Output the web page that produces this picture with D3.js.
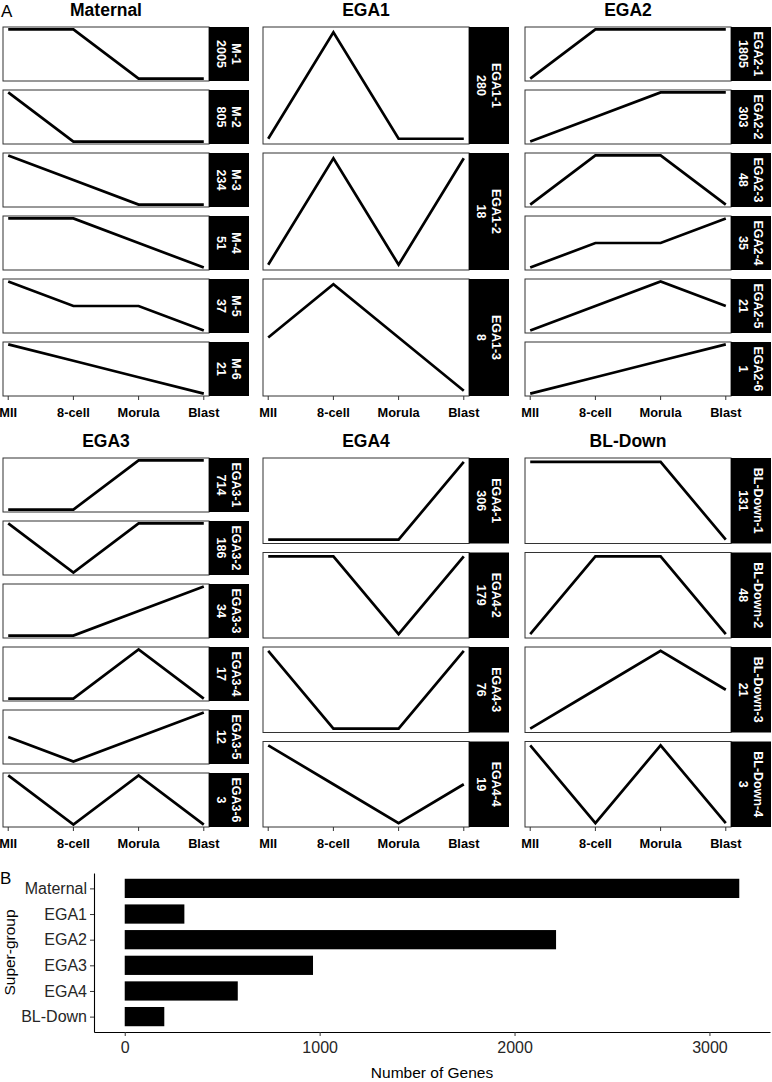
<!DOCTYPE html>
<html>
<head>
<meta charset="utf-8">
<script src="https://cdn.jsdelivr.net/npm/d3@7"></script>
<style>
  body { margin: 0; background: #fff; }
  svg { display: block; font-family: "Liberation Sans", Arial, Helvetica, sans-serif; }
</style>
</head>
<body>
<div id="container"></div>
<script>
// stages on the x axis of every profile panel
const stages = ["MII", "8-cell", "Morula", "Blast"];
const superGroups = ["Maternal", "EGA1", "EGA2", "EGA3", "EGA4", "BL-Down"];

// cluster names, sizes and relative expression profiles, one list per super-group
const clusterNames = [
	["M-1", "M-2", "M-3", "M-4", "M-5", "M-6"],
	["EGA1-1", "EGA1-2", "EGA1-3"],
	["EGA2-1", "EGA2-2", "EGA2-3", "EGA2-4", "EGA2-5", "EGA2-6"],
	["EGA3-1", "EGA3-2", "EGA3-3", "EGA3-4", "EGA3-5", "EGA3-6"],
	["EGA4-1", "EGA4-2", "EGA4-3", "EGA4-4"],
	["BL-Down-1", "BL-Down-2", "BL-Down-3", "BL-Down-4"]
];
const clusterSizes = [
	[2005, 805, 234, 51, 37, 21],
	[280, 18, 8],
	[1805, 303, 48, 35, 21, 1],
	[714, 186, 34, 17, 12, 3],
	[306, 179, 76, 19],
	[131, 48, 21, 3]
];
const profiles = [
	[[2, 2, 0, 0], [2, 0, 0, 0], [2, 1, 0, 0], [2, 2, 1, 0], [2, 1, 1, 0], [3, 2, 1, 0]],
	[[0, 2, 0, 0], [0, 2, 0, 2], [1, 2, 1, 0]],
	[[0, 2, 2, 2], [0, 1, 2, 2], [0, 2, 2, 0], [0, 1, 1, 2], [0, 1, 2, 1], [0, 1, 2, 3]],
	[[0, 0, 2, 2], [2, 0, 2, 2], [0, 0, 1, 2], [0, 0, 2, 0], [1, 0, 1, 2], [2, 0, 2, 0]],
	[[0, 0, 0, 2], [2, 2, 0, 2], [2, 0, 0, 2], [2, 1, 0, 1]],
	[[2, 2, 2, 0], [0, 2, 2, 0], [0, 1, 2, 1], [2, 0, 2, 0]]
];

// panel B: number of genes per super-group
const groupTotals = [3153, 306, 2213, 966, 580, 203];
const geneTicks = [0, 1000, 2000, 3000];

let svg = d3.select("div#container").append("svg")
	.attr("width", 772)
	.attr("height", 1082);

// ---- panel A: small multiples ----
let colLeft = [3, 263, 525];
let rowTop = [27, 458];
let blockHeight = 369, panelGap = 9;
let panelW = 206, stripW = 40;
let lineColor = "black";

svg.append("text")
	.attr("x", 1).attr("y", 17)
	.style("font-size", "17px")
	.text("A");

superGroups.forEach(function (group, gi) {
	let left = colLeft[gi % 3];
	let top = rowTop[Math.floor(gi / 3)];
	let names = clusterNames[gi];
	let n = names.length;
	let h = (blockHeight - panelGap * (n - 1)) / n;

	let xScale = d3.scalePoint().domain(stages).range([left, left + panelW]).padding(0.08);

	svg.append("text")
		.attr("x", left + panelW / 2)
		.attr("y", top - 11)
		.attr("text-anchor", "middle")
		.style("font-size", "17.5px")
		.style("font-weight", "bold")
		.text(group);

	names.forEach(function (name, ci) {
		let y0 = top + ci * (h + panelGap);
		let vals = profiles[gi][ci];
		let pad = h * 0.045;
		let yScale = d3.scaleLinear().domain(d3.extent(vals)).range([y0 + h - pad, y0 + pad]);

		svg.append("rect")
			.attr("x", left).attr("y", y0)
			.attr("width", panelW).attr("height", h)
			.attr("fill", "white")
			.attr("stroke", "#333")
			.attr("stroke-width", 1);

		svg.append("rect")
			.attr("x", left + panelW).attr("y", y0)
			.attr("width", stripW).attr("height", h)
			.attr("fill", "black");

		let line = d3.line()
			.x((d, i) => xScale(stages[i]))
			.y(d => yScale(d));

		svg.append("path")
			.datum(vals)
			.attr("d", line)
			.attr("fill", "none")
			.attr("stroke", lineColor)
			.attr("stroke-width", 2.7)
			.attr("stroke-linejoin", "miter");

		let label = svg.append("g")
			.attr("transform", "translate(" + (left + panelW + stripW / 2) + "," + (y0 + h / 2) + ") rotate(90)");
		label.append("text")
			.attr("y", -7.5 + 4.4)
			.attr("text-anchor", "middle")
			.attr("fill", "white")
			.style("font-size", "12.5px")
			.style("font-weight", "bold")
			.text(name);
		label.append("text")
			.attr("y", 7.5 + 4.4)
			.attr("text-anchor", "middle")
			.attr("fill", "white")
			.style("font-size", "12.5px")
			.style("font-weight", "bold")
			.text(clusterSizes[gi][ci]);
	});

	// x ticks under the last panel
	let bottom = top + blockHeight;
	stages.forEach(function (s) {
		svg.append("line")
			.attr("x1", xScale(s)).attr("x2", xScale(s))
			.attr("y1", bottom).attr("y2", bottom + 4)
			.attr("stroke", "#333");
		svg.append("text")
			.attr("x", xScale(s))
			.attr("y", bottom + 21)
			.attr("text-anchor", "middle")
			.style("font-size", "12.8px")
			.style("font-weight", "bold")
			.text(s);
	});
});

// ---- panel B: bar chart ----
svg.append("text")
	.attr("x", 0).attr("y", 884)
	.style("font-size", "17px")
	.text("B");

let barLeft = 94, barRight = 770, barTop = 873, barBottom = 1032;
let expand = d3.max(groupTotals) * 0.05;
let xBar = d3.scaleLinear().domain([-expand, d3.max(groupTotals) + expand]).range([barLeft, barRight]);
let yBar = d3.scalePoint().domain(superGroups).range([barTop, barBottom]).padding(0.6);
let barH = yBar.step() * 0.75;

let bars = svg.append("g");
superGroups.forEach(function (g, i) {
	bars.append("rect")
		.attr("x", xBar(0))
		.attr("y", yBar(g) - barH / 2)
		.attr("width", xBar(groupTotals[i]) - xBar(0))
		.attr("height", barH)
		.attr("fill", "black");
});

let xAxis = svg.append("g")
	.attr("transform", "translate(0," + barBottom + ")")
	.call(d3.axisBottom(xBar).tickValues(geneTicks).tickFormat(d3.format("d")).tickSize(4).tickSizeOuter(0).tickPadding(6));
let yAxis = svg.append("g")
	.attr("transform", "translate(" + barLeft + ",0)")
	.call(d3.axisLeft(yBar).tickSize(4).tickSizeOuter(0).tickPadding(3));

[xAxis, yAxis].forEach(function (ax) {
	ax.select(".domain").attr("stroke", "black").attr("stroke-width", 1.1);
	ax.selectAll(".tick line").attr("stroke", "#333");
	ax.selectAll(".tick text")
		.attr("fill", "#262626")
		.style("font-size", "16px")
		.style("font-family", "\"Liberation Sans\", Arial, Helvetica, sans-serif");
});

svg.append("text")
	.attr("x", (barLeft + barRight) / 2)
	.attr("y", 1078)
	.attr("text-anchor", "middle")
	.style("font-size", "15.5px")
	.text("Number of Genes");

svg.append("text")
	.attr("transform", "translate(14.5," + ((barTop + barBottom) / 2) + ") rotate(-90)")
	.attr("text-anchor", "middle")
	.style("font-size", "15.5px")
	.text("Super-group");
</script>
</body>
</html>
